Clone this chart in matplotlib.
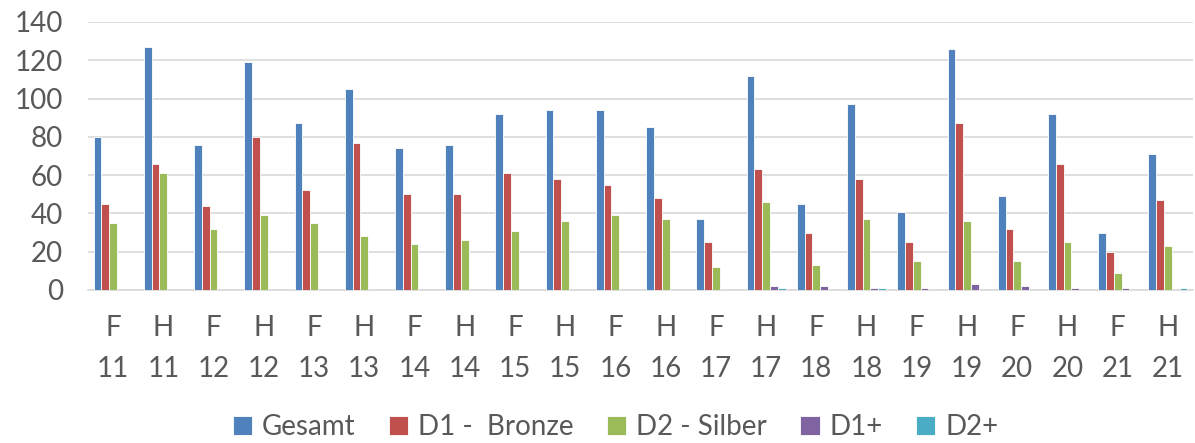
import numpy as np
import matplotlib.pyplot as plt

semester = ['F', 'H'] * 11
jahr = [str(y) for y in range(11, 22) for _ in range(2)]
gesamt = [80, 127, 76, 119, 87, 105, 74, 76, 92, 94, 94, 85, 37, 112, 45, 97, 41, 126, 49, 92, 30, 71]
bronze = [45, 66, 44, 80, 52, 77, 50, 50, 61, 58, 55, 48, 25, 63, 30, 58, 25, 87, 32, 66, 20, 47]
silber = [35, 61, 32, 39, 35, 28, 24, 26, 31, 36, 39, 37, 12, 46, 13, 37, 15, 36, 15, 25, 9, 23]
d1plus = [0, 0, 0, 0, 0, 0, 0, 0, 0, 0, 0, 0, 0, 2, 2, 1, 1, 3, 2, 1, 1, 0]
d2plus = [0, 0, 0, 0, 0, 0, 0, 0, 0, 0, 0, 0, 0, 1, 0, 1, 0, 0, 0, 0, 0, 1]

series = [gesamt, bronze, silber, d1plus, d2plus]
names = ['Gesamt', 'D1 -  Bronze', 'D2 - Silber', 'D1+', 'D2+']
colors = ['#4F81BD', '#C0504D', '#9BBB59', '#8064A2', '#4BACC6']

plt.rcParams['font.family'] = ['Lato', 'DejaVu Sans']

fig = plt.figure(figsize=(11.95, 4.43), dpi=100)
ax = fig.add_axes([88 / 1195, 1 - 290 / 443, 1105 / 1195, 268 / 443])

x = np.arange(len(gesamt))
w = 0.155
for i, (vals, name, c) in enumerate(zip(series, names, colors)):
    ax.bar(x + (i - 2) * w, vals, width=w, color=c, edgecolor='white', linewidth=0.6, label=name, zorder=3)

ax.set_xlim(-0.5, len(gesamt) - 0.5)
ax.set_ylim(0, 140)
ax.set_yticks(range(0, 141, 20))
ax.grid(axis='y', color='#D9D9D9', linewidth=1.2, zorder=0)
ax.set_xticks(x)
ax.set_xticklabels([f'{s}\n{j}' for s, j in zip(semester, jahr)], linespacing=1.7)
ax.tick_params(axis='both', length=0, labelsize=20, labelcolor='#595959')
ax.tick_params(axis='x', pad=18)
ax.tick_params(axis='y', pad=18)
for side in ['top', 'right', 'left']:
    ax.spines[side].set_visible(False)
ax.spines['bottom'].set_color('#D9D9D9')
ax.spines['bottom'].set_linewidth(1.2)

fig.legend(loc='lower center', bbox_to_anchor=(0.515, -0.05), ncol=5, frameon=False,
           fontsize=20, labelcolor='#595959', handlelength=0.7, handleheight=0.7,
           handletextpad=0.35, columnspacing=1.2)

fig.savefig('out.png', dpi=100)
